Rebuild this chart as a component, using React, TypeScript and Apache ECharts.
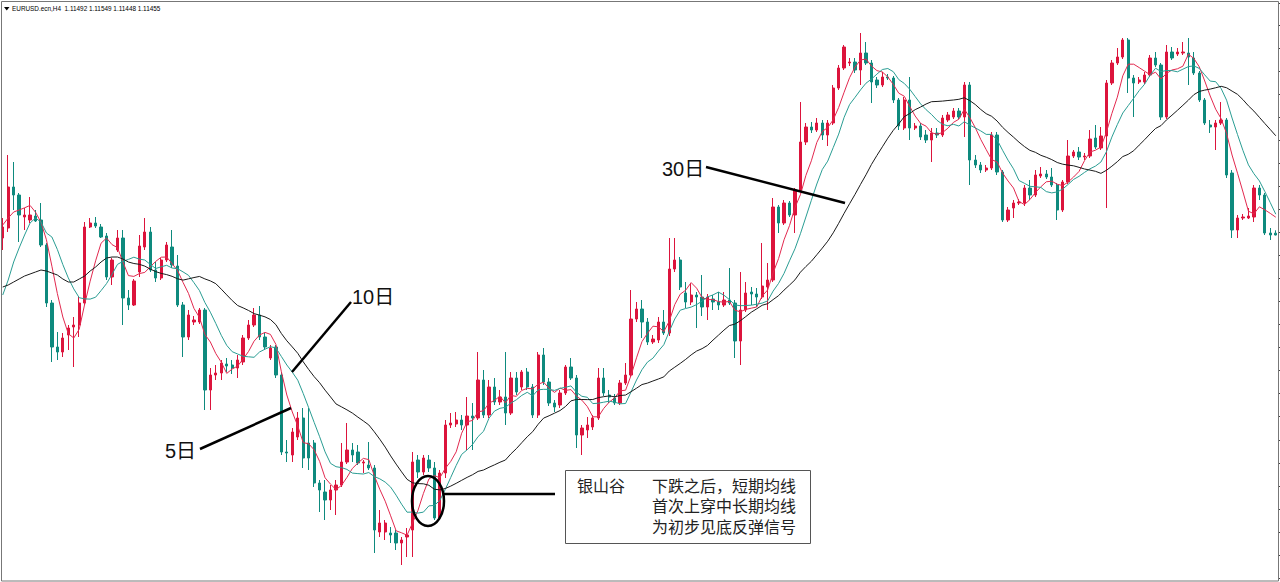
import React, { useEffect, useRef } from "react";
import * as echarts from "echarts";

// EURUSD H4 candles (price)
const opens = [
  1.11395, 1.11595, 1.12415, 1.12255, 1.11815, 1.11755, 1.11835, 1.11755, 1.11255, 1.10095,
  1.09215, 1.09115, 1.09455, 1.09615, 1.09655, 1.10095, 1.11615, 1.11695, 1.11615, 1.11435,
  1.10615, 1.11155, 1.11395, 1.10195, 1.10055, 1.10715, 1.11215, 1.11515, 1.10755, 1.10595,
  1.10955, 1.11215, 1.10835, 1.10055, 1.09415, 1.09715, 1.09715, 1.09955, 1.08355, 1.08655,
  1.08695, 1.08875, 1.08855, 1.08795, 1.08915, 1.09395, 1.09655, 1.09855, 1.09415, 1.08995,
  1.09215, 1.08655, 1.07115, 1.07055, 1.07415, 1.07795, 1.07295, 1.07295, 1.06495, 1.06315,
  1.06155, 1.06355, 1.06455, 1.06915, 1.07155, 1.07115, 1.06895, 1.06855, 1.06795, 1.05515,
  1.05515, 1.05495, 1.05495, 1.05295, 1.05415, 1.05555, 1.06955, 1.06715, 1.06955, 1.06795,
  1.05795, 1.06695, 1.07655, 1.07675, 1.07755, 1.07655, 1.07835, 1.07795, 1.08555, 1.07855,
  1.08415, 1.08115, 1.08215, 1.07895, 1.08595, 1.08415, 1.08715, 1.08415, 1.07855, 1.09055,
  1.08515, 1.08095, 1.08055, 1.08295, 1.08815, 1.08595, 1.07455, 1.07555, 1.07615, 1.07795,
  1.08595, 1.08255, 1.08195, 1.08095, 1.08495, 1.08655, 1.09775, 1.09975, 1.09715, 1.09315,
  1.09355, 1.09715, 1.09495, 1.10775, 1.10955, 1.10295, 1.10115, 1.10255, 1.10215, 1.10015,
  1.10175, 1.10115, 1.10055, 1.10155, 1.10095, 1.09335, 1.09955, 1.10315, 1.10275, 1.10215,
  1.10415, 1.10555, 1.12015, 1.11695, 1.12095, 1.11855, 1.12355, 1.13315, 1.13615, 1.13555,
  1.13695, 1.13455, 1.13695, 1.14395, 1.14795, 1.14895, 1.14915, 1.14755, 1.15095, 1.14895,
  1.14555, 1.14455, 1.14615, 1.14595, 1.14155, 1.13595, 1.14155, 1.13595, 1.13635, 1.13455,
  1.13355, 1.13495, 1.13455, 1.13755, 1.13815, 1.13935, 1.13815, 1.14455, 1.12955, 1.12855,
  1.12755, 1.12795, 1.13455, 1.12715, 1.11755, 1.11995, 1.12095, 1.12095, 1.12395, 1.12255,
  1.12635, 1.12675, 1.12615, 1.12455, 1.11955, 1.12515, 1.13035, 1.13115, 1.13015, 1.13035,
  1.13395, 1.13195, 1.13435, 1.14495, 1.14895, 1.15015, 1.15355, 1.14595, 1.14515, 1.14515,
  1.14655, 1.14995, 1.14855, 1.13815, 1.15115, 1.15075, 1.15095, 1.15095, 1.14995, 1.14695,
  1.14155, 1.13655, 1.13615, 1.13695, 1.13755, 1.12695, 1.11555, 1.11795, 1.11795, 1.11815,
  1.12395, 1.12255, 1.11495, 1.11492,
];

const highs = [
  1.11795, 1.13055, 1.12915, 1.12295, 1.11995, 1.12215, 1.11955, 1.12095, 1.11295, 1.10155,
  1.09515, 1.09495, 1.09655, 1.09815, 1.10215, 1.11715, 1.11795, 1.11815, 1.11675, 1.11495,
  1.10995, 1.11555, 1.11555, 1.10355, 1.10575, 1.11455, 1.11795, 1.11615, 1.10915, 1.10995,
  1.11315, 1.11555, 1.11055, 1.10115, 1.09955, 1.09835, 1.09995, 1.09995, 1.08795, 1.08855,
  1.08955, 1.08995, 1.08955, 1.09055, 1.09455, 1.09755, 1.09995, 1.10035, 1.09495, 1.09255,
  1.09255, 1.08715, 1.07355, 1.07595, 1.07915, 1.07995, 1.07995, 1.07355, 1.06555, 1.06555,
  1.06455, 1.06555, 1.07295, 1.07695, 1.07295, 1.07255, 1.06955, 1.07315, 1.06855, 1.05955,
  1.05755, 1.05615, 1.05555, 1.05415, 1.05595, 1.07115, 1.07055, 1.07055, 1.07055, 1.06915,
  1.06755, 1.07755, 1.07895, 1.07915, 1.07855, 1.08215, 1.08095, 1.09115, 1.08755, 1.08555,
  1.08595, 1.08355, 1.09115, 1.08715, 1.08715, 1.08755, 1.08795, 1.08475, 1.09115, 1.09195,
  1.08595, 1.08155, 1.08355, 1.08855, 1.08995, 1.08655, 1.07655, 1.07815, 1.07855, 1.08795,
  1.08795, 1.08355, 1.08275, 1.08555, 1.08895, 1.10355, 1.10115, 1.10155, 1.09795, 1.09455,
  1.09815, 1.09955, 1.11395, 1.11395, 1.11015, 1.10515, 1.10495, 1.10315, 1.10655, 1.10275,
  1.10255, 1.10315, 1.10315, 1.10795, 1.10155, 1.10715, 1.10515, 1.10415, 1.10395, 1.11295,
  1.10895, 1.12195, 1.12055, 1.12155, 1.12135, 1.12395, 1.14115, 1.13695, 1.13715, 1.13795,
  1.13755, 1.13755, 1.14455, 1.14855, 1.15255, 1.14995, 1.14995, 1.15495, 1.15315, 1.14955,
  1.14615, 1.14715, 1.14675, 1.14635, 1.14195, 1.14215, 1.14615, 1.13695, 1.13695, 1.13555,
  1.13595, 1.13595, 1.13855, 1.13915, 1.13995, 1.13995, 1.14515, 1.14515, 1.13055, 1.12915,
  1.12855, 1.13515, 1.13515, 1.12755, 1.12015, 1.12155, 1.12175, 1.12455, 1.12555, 1.12755,
  1.12815, 1.12755, 1.12795, 1.12495, 1.12555, 1.13355, 1.13155, 1.13215, 1.13095, 1.13555,
  1.13655, 1.13615, 1.14555, 1.14955, 1.15195, 1.15395, 1.15395, 1.14655, 1.14615, 1.14715,
  1.15055, 1.15115, 1.14895, 1.15255, 1.15215, 1.15195, 1.15315, 1.15395, 1.15115, 1.14735,
  1.14195, 1.13755, 1.13755, 1.14115, 1.13795, 1.12755, 1.11855, 1.11875, 1.11995, 1.12455,
  1.12455, 1.12295, 1.11595, 1.11549,
];

const lows = [
  1.11155, 1.11515, 1.11955, 1.11315, 1.11555, 1.11695, 1.11715, 1.11215, 1.10015, 1.08915,
  1.08955, 1.09015, 1.09155, 1.08815, 1.09415, 1.10055, 1.11595, 1.11595, 1.11395, 1.10555,
  1.10455, 1.11115, 1.09655, 1.09955, 1.10035, 1.10615, 1.11155, 1.10715, 1.10515, 1.10555,
  1.10915, 1.10795, 1.10015, 1.09015, 1.09355, 1.09655, 1.09675, 1.07955, 1.07955, 1.08555,
  1.08555, 1.08715, 1.08675, 1.08595, 1.08855, 1.09355, 1.09615, 1.09355, 1.09155, 1.08955,
  1.08595, 1.07055, 1.06915, 1.06915, 1.07355, 1.06795, 1.06755, 1.06415, 1.05915, 1.05755,
  1.05955, 1.05855, 1.06415, 1.06875, 1.06915, 1.06855, 1.06695, 1.06755, 1.05095, 1.05415,
  1.05355, 1.05295, 1.05155, 1.04855, 1.05015, 1.05015, 1.06595, 1.06655, 1.06715, 1.05755,
  1.05755, 1.06595, 1.07595, 1.07615, 1.07555, 1.07155, 1.07155, 1.07755, 1.07795, 1.07795,
  1.08055, 1.08055, 1.07655, 1.07855, 1.08255, 1.08355, 1.08355, 1.07795, 1.07795, 1.08455,
  1.08035, 1.07915, 1.07995, 1.08255, 1.08555, 1.07195, 1.07055, 1.07395, 1.07555, 1.07755,
  1.08235, 1.08095, 1.08055, 1.08055, 1.08455, 1.08615, 1.09715, 1.09395, 1.09255, 1.09275,
  1.09295, 1.09455, 1.09435, 1.10715, 1.10355, 1.09995, 1.10055, 1.09595, 1.09835, 1.09755,
  1.09955, 1.09955, 1.10015, 1.10055, 1.08995, 1.08855, 1.09915, 1.10055, 1.10015, 1.10175,
  1.09955, 1.10515, 1.11495, 1.11655, 1.11815, 1.11495, 1.12315, 1.13255, 1.13495, 1.13515,
  1.13355, 1.13235, 1.13655, 1.14355, 1.14755, 1.14835, 1.14695, 1.14455, 1.14855, 1.14095,
  1.14395, 1.14415, 1.14555, 1.14095, 1.13555, 1.13555, 1.13355, 1.13555, 1.13355, 1.13295,
  1.12915, 1.13395, 1.13415, 1.13715, 1.13775, 1.13775, 1.13415, 1.12455, 1.12795, 1.12695,
  1.12715, 1.12755, 1.12655, 1.11715, 1.11715, 1.11795, 1.12055, 1.12035, 1.12155, 1.12215,
  1.12595, 1.12575, 1.12415, 1.11755, 1.11915, 1.12475, 1.12995, 1.12955, 1.12955, 1.12995,
  1.13175, 1.13155, 1.11995, 1.14455, 1.14855, 1.14975, 1.14295, 1.13815, 1.14475, 1.14475,
  1.14615, 1.14815, 1.13755, 1.13775, 1.14955, 1.15035, 1.15055, 1.14455, 1.14655, 1.14115,
  1.13655, 1.13495, 1.13155, 1.13655, 1.12595, 1.11395, 1.11395, 1.11755, 1.11775, 1.11715,
  1.12155, 1.11455, 1.11355, 1.11448,
];

const closes = [
  1.11615, 1.12415, 1.12255, 1.11855, 1.11855, 1.11855, 1.11735, 1.11255, 1.10095, 1.09215,
  1.09115, 1.09395, 1.09595, 1.09655, 1.10095, 1.11615, 1.11695, 1.11635, 1.11415, 1.10615,
  1.10955, 1.11395, 1.10195, 1.10055, 1.10535, 1.11235, 1.11515, 1.10755, 1.10595, 1.10955,
  1.11255, 1.10855, 1.10055, 1.09415, 1.09855, 1.09755, 1.09955, 1.08355, 1.08655, 1.08695,
  1.08895, 1.08835, 1.08795, 1.08955, 1.09395, 1.09655, 1.09855, 1.09415, 1.09215, 1.09195,
  1.08655, 1.07115, 1.07095, 1.07515, 1.07795, 1.06995, 1.06995, 1.06495, 1.06355, 1.06155,
  1.06355, 1.06455, 1.06915, 1.07155, 1.07055, 1.06895, 1.06915, 1.06795, 1.05555, 1.05695,
  1.05695, 1.05455, 1.05295, 1.05355, 1.05455, 1.06915, 1.06715, 1.06995, 1.06795, 1.05795,
  1.06695, 1.07655, 1.07695, 1.07755, 1.07655, 1.07835, 1.07795, 1.08555, 1.07855, 1.08415,
  1.08115, 1.08215, 1.07895, 1.08595, 1.08315, 1.08715, 1.08415, 1.07855, 1.09055, 1.08515,
  1.08095, 1.08015, 1.08295, 1.08815, 1.08595, 1.07455, 1.07595, 1.07655, 1.07795, 1.08595,
  1.08295, 1.08215, 1.08095, 1.08495, 1.08655, 1.09775, 1.09975, 1.09715, 1.09315, 1.09375,
  1.09715, 1.09495, 1.10775, 1.10955, 1.10415, 1.10115, 1.10255, 1.10215, 1.10015, 1.10215,
  1.10115, 1.10055, 1.10155, 1.10095, 1.09335, 1.09955, 1.10295, 1.10275, 1.10215, 1.10435,
  1.10555, 1.12015, 1.11695, 1.12095, 1.11855, 1.12355, 1.13315, 1.13615, 1.13555, 1.13695,
  1.13455, 1.13695, 1.14395, 1.14795, 1.15215, 1.14915, 1.14755, 1.15095, 1.14895, 1.14515,
  1.14455, 1.14615, 1.14595, 1.14155, 1.13635, 1.14155, 1.13595, 1.13635, 1.13415, 1.13355,
  1.13495, 1.13455, 1.13795, 1.13855, 1.13935, 1.13815, 1.14455, 1.12955, 1.12855, 1.12755,
  1.12795, 1.13455, 1.12715, 1.11755, 1.11955, 1.12095, 1.12115, 1.12395, 1.12255, 1.12655,
  1.12675, 1.12615, 1.12455, 1.11955, 1.12515, 1.13035, 1.13115, 1.13015, 1.13035, 1.13375,
  1.13215, 1.13435, 1.14495, 1.14895, 1.15015, 1.15355, 1.14595, 1.14495, 1.14555, 1.14655,
  1.14995, 1.14855, 1.13815, 1.15115, 1.14995, 1.15115, 1.15115, 1.15015, 1.14695, 1.14155,
  1.13695, 1.13615, 1.13695, 1.13755, 1.12655, 1.11555, 1.11795, 1.11815, 1.11835, 1.12395,
  1.12255, 1.11495, 1.11455, 1.11455,
];

// moving-average values for the first bars on screen (before a full window exists)
const ma5Head = [1.11655, 1.11795, 1.11915, 1.11955];
const ma10Head = [1.10255, 1.10555, 1.10915, 1.11195, 1.11455, 1.11695, 1.11795, 1.11715, 1.11495];
const maLongHead = [
  1.10415, 1.10455, 1.10515, 1.10575, 1.10635, 1.10675, 1.10715, 1.10755, 1.10735, 1.10695,
  1.10655, 1.10575, 1.10515, 1.10515, 1.10575, 1.10635, 1.10735, 1.10815, 1.10915, 1.10995,
  1.11015, 1.11015, 1.10975, 1.10915,
];
// window that reproduces the plotted long ("30日") average
const MA_LONG_WINDOW = 25;

const symbolText = "EURUSD.ecn,H4";
const quoteText = "1.11492 1.11549 1.11448 1.11455";
const label5 = "5日";
const label10 = "10日";
const label30 = "30日";
const boxTitle = "银山谷";
const boxLines = ["下跌之后，短期均线", "首次上穿中长期均线", "为初步见底反弹信号"];

const Y_MIN = 1.04595;
const Y_MAX = 1.16095;
const Y_STEP = 0.0046077093;

const RED = "#dc143c";
const TEAL = "#0e8a7e";

function sma(values: number[], n: number, head: number[]): number[] {
  return values.map((_, i) => {
    if (i < n - 1) return head[i];
    let s = 0;
    for (let k = i - n + 1; k <= i; k++) s += values[k];
    return +(s / n).toFixed(5);
  });
}

export default function App() {
  const ref = useRef<HTMLDivElement>(null);

  useEffect(() => {
    if (!ref.current) return;
    const chart = echarts.init(ref.current, null, { renderer: "svg" });
    const cats = closes.map((_, i) => String(i + 1));
    const candles = closes.map((c, i) => [opens[i], c, lows[i], highs[i]]);
    const ma5 = sma(closes, 5, ma5Head);
    const ma10 = sma(closes, 10, ma10Head);
    const maLong = sma(closes, MA_LONG_WINDOW, maLongHead);

    const txt = (text: string, x: number, y: number, size: number, family: string, fill = "#111") => ({
      type: "text",
      z: 100,
      silent: true,
      style: {
        text,
        x,
        y,
        fill,
        fontSize: size,
        fontFamily: family,
        textVerticalAlign: "middle",
        verticalAlign: "middle",
      },
    });
    const seg = (x1: number, y1: number, x2: number, y2: number, w = 2.5) => ({
      type: "line",
      z: 100,
      silent: true,
      shape: { x1, y1, x2, y2 },
      style: { stroke: "#000", lineWidth: w },
    });
    const cjk = "'Liberation Sans', 'Noto Sans CJK SC', sans-serif";

    chart.setOption({
      animation: false,
      backgroundColor: "#ffffff",
      grid: { left: 0, right: 1.5, top: 3, bottom: 4 },
      xAxis: {
        type: "category",
        data: cats,
        boundaryGap: true,
        show: false,
      },
      yAxis: {
        type: "value",
        position: "right",
        min: Y_MIN,
        max: Y_MAX,
        interval: Y_STEP,
        axisLine: { show: false },
        axisTick: { show: true, inside: false, length: 3, lineStyle: { color: "#444", width: 1 } },
        axisLabel: { show: false },
        splitLine: { show: false },
      },
      series: [
        {
          type: "candlestick",
          data: candles,
          barWidth: 2.8,
          itemStyle: {
            color: RED,
            color0: TEAL,
            borderColor: RED,
            borderColor0: TEAL,
            borderWidth: 1,
          },
        },
        {
          type: "line",
          data: ma5,
          showSymbol: false,
          symbol: "none",
          lineStyle: { color: "#e2294f", width: 1 },
          z: 3,
        },
        {
          type: "line",
          data: ma10,
          showSymbol: false,
          symbol: "none",
          lineStyle: { color: "#2a9d93", width: 1 },
          z: 3,
        },
        {
          type: "line",
          data: maLong,
          showSymbol: false,
          symbol: "none",
          lineStyle: { color: "#1a1a1a", width: 1 },
          z: 3,
        },
      ],
      graphic: [
        {
          type: "rect",
          z: 90,
          silent: true,
          shape: { x: 1.5, y: 1.5, width: 1277, height: 579.5 },
          style: { fill: "none", stroke: "#777", lineWidth: 1 },
        },
        {
          type: "polygon",
          z: 100,
          silent: true,
          shape: { points: [[4, 7], [9.5, 7], [6.75, 10.5]] },
          style: { fill: "#000" },
        },
        txt(symbolText + "  " + quoteText, 12, 8.8, 6.4, "'Liberation Sans', sans-serif", "#000"),
        txt(label10, 352, 297, 20, cjk),
        seg(351, 302, 292, 372),
        txt(label5, 165, 451, 20, cjk),
        seg(200, 449, 291, 408),
        txt(label30, 662, 169, 20, cjk),
        seg(706, 167, 845, 203),
        {
          type: "ellipse",
          z: 100,
          silent: true,
          shape: { cx: 428, cy: 501, rx: 16, ry: 25 },
          style: { fill: "none", stroke: "#000", lineWidth: 2.5 },
        },
        seg(444, 494, 555, 494),
        {
          type: "rect",
          z: 100,
          silent: true,
          shape: { x: 565.5, y: 470.5, width: 245, height: 73 },
          style: { fill: "#fff", stroke: "#555", lineWidth: 1 },
        },
        txt(boxTitle, 577, 486, 16, cjk, "#222"),
        txt(boxLines[0], 652, 486, 16, cjk, "#222"),
        txt(boxLines[1], 652, 506.5, 16, cjk, "#222"),
        txt(boxLines[2], 652, 527, 16, cjk, "#222"),
      ],
    });

    return () => chart.dispose();
  }, []);

  return (
    <div
      ref={ref}
      style={{ position: "fixed", left: 0, top: 0, width: 1280, height: 582, background: "#fff" }}
    />
  );
}
